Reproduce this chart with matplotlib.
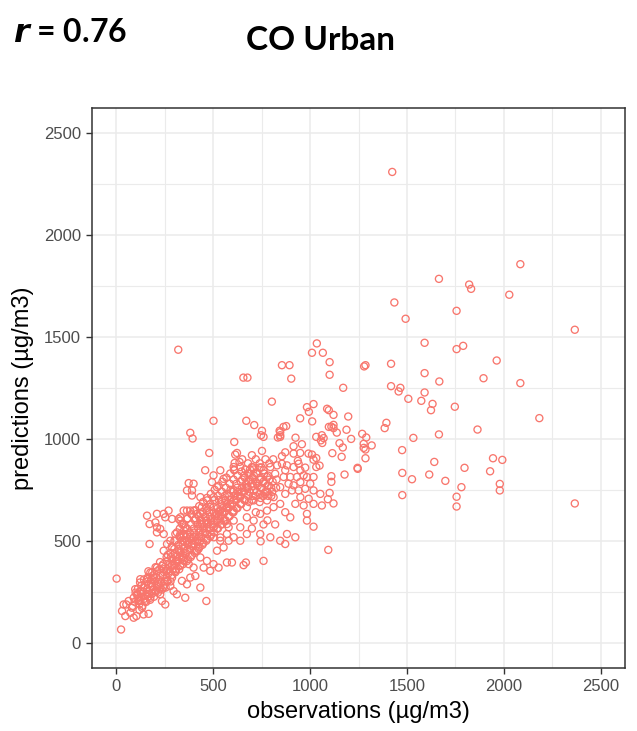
import matplotlib
matplotlib.use("Agg")
import matplotlib.pyplot as plt
import numpy as np

# ── data: observed vs predicted CO, urban stations (µg/m3) ───────────────────
# upper tail, obs above ~1100
obs_high = [1424, 2085, 1665, 1821, 1831, 2028, 1435, 1493, 1756, 2366, 1591, 1756,
            1790, 1963, 1101, 1101, 1279, 1286, 1418, 1591, 1667, 1895, 2085, 1171,
            1418, 1466, 1457, 1591, 1507, 1574, 1632, 1624, 1747, 2183, 1121, 1197,
            1121, 1121, 1110, 1138, 1188, 1394, 1385, 1864, 1269, 1290, 1212, 1533,
            1665, 1152, 1169, 1277, 1277, 1318, 1286, 1115, 1163, 1286, 1475, 1245,
            1246, 1178, 1110, 1110, 1101, 1121, 1476, 1526, 1476, 1641, 1615, 1698,
            1797, 1781, 1756, 1756, 1944, 1992, 1929, 1979, 1979, 2366]
pred_high = [2311, 1858, 1786, 1758, 1737, 1708, 1670, 1590, 1629, 1536, 1472, 1441,
             1457, 1385, 1377, 1315, 1356, 1362, 1369, 1323, 1282, 1298, 1274, 1251,
             1259, 1251, 1233, 1228, 1197, 1187, 1172, 1141, 1158, 1102, 1118, 1110,
             1069, 1053, 1060, 1031, 1045, 1079, 1053, 1046, 1025, 1007, 1000, 1005,
             1022, 979, 958, 976, 956, 968, 948, 930, 912, 905, 945, 858,
             853, 825, 817, 789, 735, 683, 833, 802, 724, 887, 825, 794,
             858, 763, 716, 668, 905, 897, 841, 779, 747, 683]

# middle range, obs ~850-1100
obs_mid = [1035, 1010, 1066, 855, 894, 903, 984, 1018, 994, 1088, 1097, 949,
           1011, 1097, 1032, 1061, 1070, 1056, 1063, 925, 863, 846, 846, 915,
           958, 949, 915, 872, 855, 1010, 1032, 1018, 1049, 1032, 1092, 1094,
           855, 881, 872, 915, 941, 950, 975, 967, 932, 898, 864, 889,
           846, 915, 950, 984, 1018, 1001, 975, 941, 907, 872, 1018, 1053,
           950, 993, 924, 967, 1018, 846, 872, 898, 984, 984, 1018, 1061,
           937, 992, 881, 924, 846, 872]
pred_mid = [1469, 1423, 1423, 1362, 1362, 1296, 1156, 1171, 1133, 1148, 1141, 1101,
            1086, 1059, 1010, 1018, 1004, 993, 980, 1006, 1059, 1033, 1010, 964,
            974, 931, 928, 934, 915, 923, 906, 898, 869, 862, 704, 455,
            878, 870, 846, 862, 878, 846, 859, 821, 813, 813, 813, 780,
            763, 772, 788, 813, 813, 780, 755, 747, 747, 730, 747, 730,
            714, 706, 681, 673, 681, 681, 640, 615, 632, 599, 569, 673,
            892, 928, 533, 517, 500, 484]

# low range, obs below ~850
obs_low = [320, 803, 502, 671, 712, 752, 747, 760, 843, 846, 834, 877,
           382, 394, 609, 752, 480, 623, 614, 611, 636, 606, 640, 609,
           700, 726, 760, 795, 778, 820, 459, 502, 537, 554, 494, 520,
           374, 399, 391, 365, 391, 348, 365, 331, 356, 331, 348,
           434, 468, 503, 545, 571, 606, 640, 674, 709, 743, 778, 812,
           709, 674, 640, 606, 571, 537, 503, 468, 434, 399, 434, 468,
           503, 537, 571, 606, 640, 674, 709, 743, 778, 812,
           365, 399, 434, 468, 503, 537, 571, 606, 640, 674, 743, 795,
           745, 597, 657, 669, 760, 656, 677,
           2, 25, 38, 52, 30, 47, 73, 90, 104, 81, 64, 90,
           107, 124, 98, 116, 133, 141, 167, 150, 159, 141, 124, 159,
           176, 193, 184, 202, 176, 219, 227, 236, 253, 245, 262, 279,
           296, 313, 288, 262, 236, 210, 305, 331, 313, 339, 365, 356,
           382, 408, 434, 465, 399, 374, 348, 322, 288, 262, 245, 172,
           279, 305, 331, 365, 391, 417, 434, 468, 502, 528, 451, 485,
           520, 554, 580, 571, 537, 502, 468, 434, 417, 382, 442, 485,
           520, 554, 580, 571, 159, 172, 202, 210, 245, 270, 253, 288,
           322, 339, 331, 365, 210, 227, 245, 210, 348, 313]
pred_low = [1438, 1183, 1089, 1089, 1068, 1040, 1018, 1010, 1040, 1018, 1007, 1063,
            1030, 1002, 985, 941, 931, 931, 923, 882, 887, 862, 862, 846,
            862, 829, 846, 862, 813, 829, 846, 821, 846, 804, 788, 763,
            783, 780, 747, 747, 722, 648, 607, 599, 566, 533, 500,
            714, 698, 714, 698, 730, 747, 714, 763, 747, 730, 698, 714,
            698, 665, 681, 648, 665, 648, 665, 648, 632, 648, 582, 599,
            566, 599, 582, 599, 566, 615, 599, 632, 648, 665,
            533, 517, 500, 533, 517, 500, 533, 517, 500, 533, 533, 517,
            497, 393, 380, 393, 401, 1301, 1301,
            314, 64, 187, 187, 155, 130, 146, 122, 130, 171, 204, 220,
            237, 253, 262, 204, 171, 138, 141, 204, 237, 270, 311, 311,
            344, 319, 278, 253, 220, 286, 237, 204, 187, 270, 303, 278,
            253, 237, 319, 352, 377, 368, 352, 377, 401, 303, 286, 220,
            319, 327, 270, 204, 368, 385, 418, 451, 467, 484, 451, 484,
            500, 533, 516, 500, 484, 451, 418, 401, 385, 368, 368, 352,
            451, 467, 500, 393, 516, 566, 582, 599, 632, 648, 665, 665,
            632, 599, 566, 665, 623, 582, 590, 632, 632, 648, 615, 607,
            607, 582, 615, 648, 566, 558, 533, 541, 525, 541]

# dense band between ~100 and ~850
obs_band = [85, 95, 110, 120, 130, 140, 150, 160, 170, 180, 190, 200,
            210, 220, 230, 240, 250, 120, 135, 155, 175, 195, 215, 235,
            255, 100, 130, 160, 190, 210, 245, 270, 260, 280, 290,
            270, 290, 300, 310, 320, 330, 340, 350, 360, 370, 380, 390,
            400, 410, 420, 430, 440, 450, 460, 470, 480, 490, 500, 310,
            330, 350, 370, 390, 410, 430, 450, 470, 490, 300, 320, 340,
            360, 380, 400, 420, 440, 460, 480, 260, 280, 300, 350, 410,
            510, 520, 530, 540, 550, 560, 570, 580, 590, 600, 610, 620,
            630, 640, 650, 660, 670, 680, 690, 700, 710, 720, 730, 740,
            750, 760, 770, 780, 790, 800, 520, 540, 560, 580, 600, 620,
            640, 660, 680, 700, 720, 740, 760, 780, 800, 530, 560, 590,
            620, 650, 680, 710, 740,
            650, 680, 700, 720, 740, 770, 790, 810, 830, 660, 690, 750,
            700, 760, 780, 820, 720]
pred_band = [180, 200, 215, 190, 225, 250, 230, 265, 240, 290, 260, 300,
             275, 310, 290, 330, 300, 160, 180, 200, 210, 225, 245, 260,
             270, 245, 280, 300, 330, 350, 360, 340, 320, 300, 360,
             380, 400, 380, 420, 400, 440, 420, 460, 440, 480, 460, 500,
             480, 520, 500, 540, 520, 560, 540, 580, 560, 600, 580, 360,
             380, 400, 410, 430, 450, 470, 490, 510, 530, 460, 480, 500,
             520, 540, 560, 580, 600, 620, 640, 420, 440, 500, 550, 610,
             620, 600, 640, 620, 660, 640, 680, 660, 700, 680, 720, 700,
             740, 720, 760, 740, 780, 760, 800, 780, 820, 790, 770, 800,
             760, 790, 740, 770, 800, 760, 560, 580, 600, 620, 640, 660,
             680, 700, 720, 700, 720, 690, 720, 740, 720, 700, 720, 750,
             780, 800, 830, 850, 860,
             900, 880, 920, 900, 880, 900, 880, 900, 870, 820, 850, 860,
             560, 580, 600, 580, 640]

# extra stations packed into the core of the band
obs_core = [110, 112, 125, 127, 123, 145, 147, 143, 165, 167, 163, 166,
            185, 187, 183, 186, 205, 207, 203, 225, 227, 223, 226, 245,
            247, 243, 265, 267, 263, 266, 285, 287, 283, 286, 305, 307,
            303, 306, 325, 327, 323, 326, 328, 345, 347, 343, 346, 348,
            365, 367, 363, 366, 368, 385, 387, 383, 386, 388, 405, 407,
            403, 406, 408, 425, 427, 423, 426, 428, 445, 447, 443, 446,
            448, 465, 467, 463, 466, 468, 485, 487, 483, 486, 488, 505,
            507, 503, 506, 508, 525, 527, 523, 526, 528, 545, 547, 543,
            546, 548, 565, 567, 563, 566, 568, 585, 587, 583, 586, 588,
            605, 607, 603, 606, 608, 625, 627, 623, 626, 645, 647, 643,
            646, 665, 667, 663, 666, 685, 687, 683, 686, 705, 707, 703,
            706, 725, 727, 723, 745, 747, 743, 765, 767, 763, 785, 787,
            783, 805, 807, 825, 827]
pred_core = [235, 265, 205, 240, 295, 215, 280, 310, 225, 285, 320, 350,
             240, 275, 310, 345, 250, 320, 370, 265, 330, 360, 395, 280,
             345, 385, 300, 360, 400, 430, 330, 380, 420, 470, 345, 400,
             440, 500, 360, 420, 460, 520, 560, 385, 440, 480, 530, 580,
             400, 455, 500, 560, 610, 420, 475, 520, 580, 630, 440, 500,
             540, 600, 650, 460, 520, 560, 620, 670, 480, 540, 580, 640,
             690, 500, 560, 600, 660, 710, 520, 580, 620, 680, 730, 540,
             600, 640, 700, 750, 560, 620, 660, 720, 770, 580, 640, 680,
             740, 790, 600, 660, 700, 760, 810, 620, 680, 720, 780, 830,
             640, 700, 740, 800, 850, 660, 720, 760, 820, 680, 740, 790,
             840, 700, 760, 810, 850, 690, 740, 790, 830, 720, 770, 810,
             860, 740, 780, 830, 710, 760, 810, 730, 780, 830, 720, 770,
             820, 740, 790, 760, 800]

ticks = [0, 500, 1000, 1500, 2000, 2500]
minor_ticks = [250, 750, 1250, 1750, 2250]

obs = np.array(obs_high + obs_mid + obs_low + obs_band + obs_core)
pred = np.array(pred_high + pred_mid + pred_low + pred_band + pred_core)

# ── figure ───────────────────────────────────────────────────────────────────
fig = plt.figure(figsize=(6.37, 7.31), dpi=100)
ax = fig.add_axes([92 / 637, 1 - 668 / 731, 533 / 637, 560 / 731])

ax.scatter(obs, pred, s=26, facecolors="none", edgecolors="#F8766D",
           linewidths=0.95, zorder=3)

lim = (-125, 2625)
ax.set_xlim(lim)
ax.set_ylim(lim)
ax.set_xticks(ticks)
ax.set_yticks(ticks)
ax.set_xticks(minor_ticks, minor=True)
ax.set_yticks(minor_ticks, minor=True)
ax.grid(True, which="major", color="#EBEBEB", linewidth=1.1, zorder=0)
ax.grid(True, which="minor", color="#EBEBEB", linewidth=0.8, zorder=0)
ax.set_axisbelow(True)

for sp in ax.spines.values():
    sp.set_color("#333333")
    sp.set_linewidth(1.1)
ax.tick_params(which="major", length=4, width=1.0, color="#333333",
               labelcolor="#4D4D4D", labelsize=12, pad=4)
ax.tick_params(which="minor", length=0)
for lab in ax.get_xticklabels() + ax.get_yticklabels():
    lab.set_family("Liberation Sans")

ax.set_xlabel("observations (µg/m3)", fontsize=17, family="Liberation Sans",
              labelpad=5)
ax.set_ylabel("predictions (µg/m3)", fontsize=17, family="Liberation Sans",
              labelpad=7)

fig.text(13 / 637, 1 - 32 / 731, r"$\bfit{r}$" + " = 0.76", fontsize=23,
         fontweight="bold", family="Lato", va="center", ha="left")
fig.text(320 / 637, 1 - 41 / 731, "CO Urban", fontsize=24, fontweight="bold",
         family="Lato", va="center", ha="center")

fig.savefig("out.png", dpi=100)
